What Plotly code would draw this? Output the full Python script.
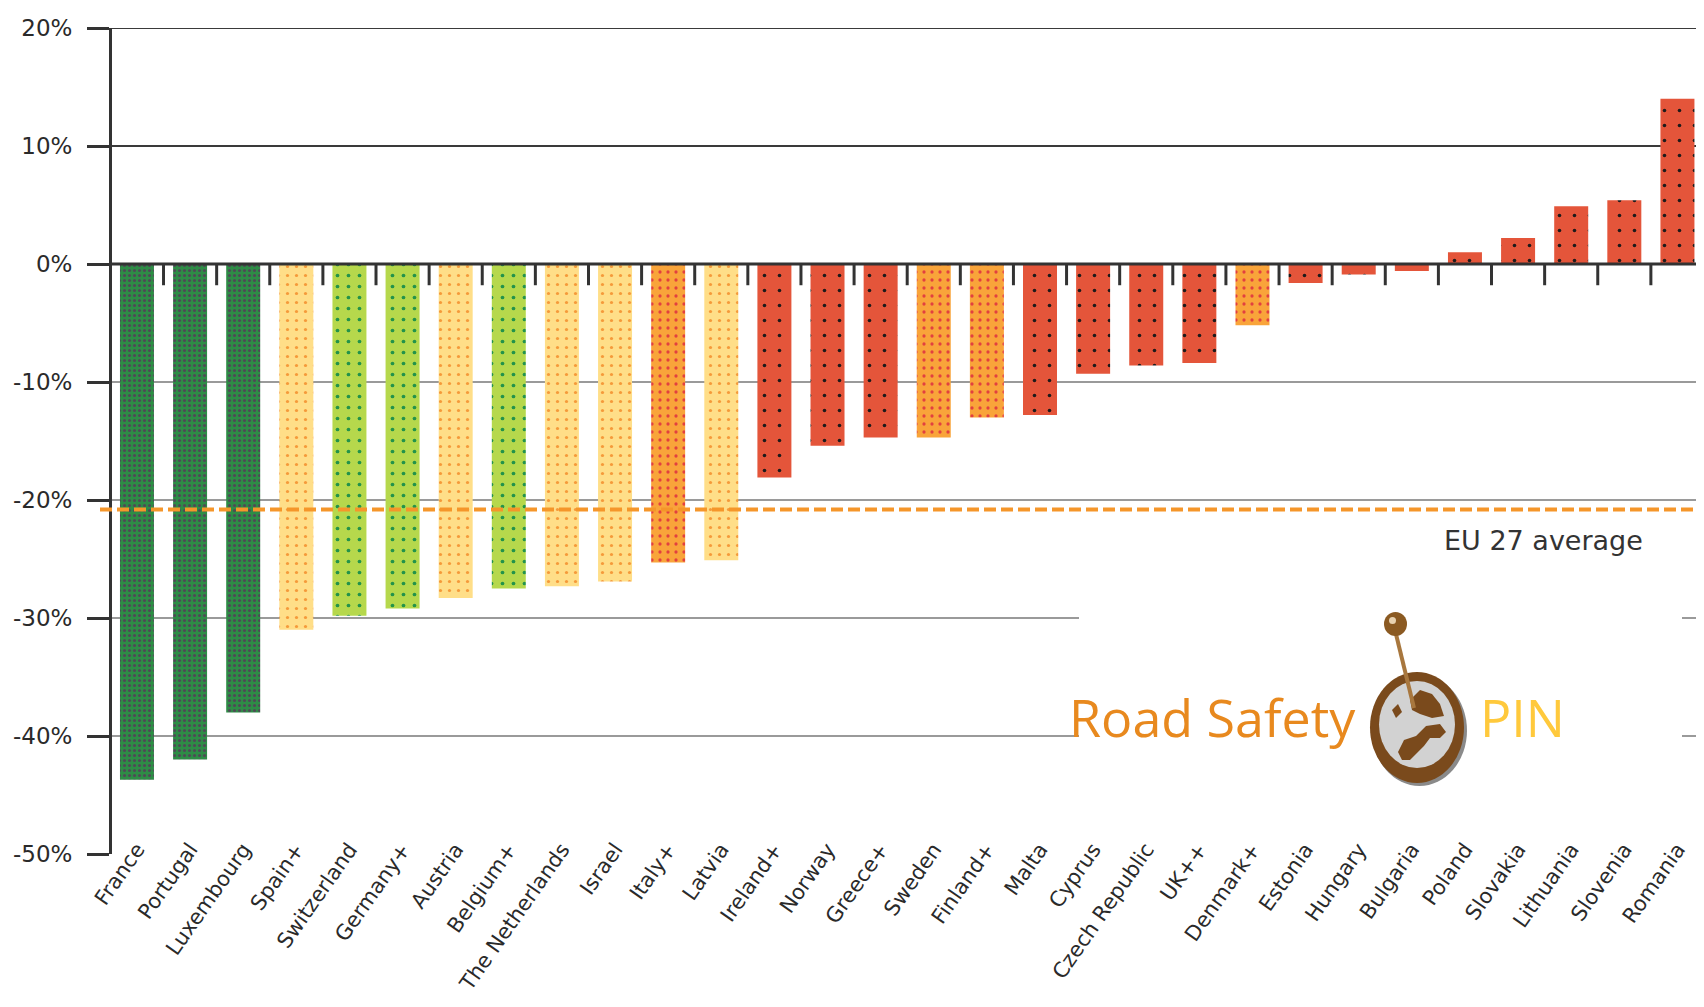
import plotly.graph_objects as go

countries = ["France", "Portugal", "Luxembourg", "Spain+", "Switzerland", "Germany+", "Austria",
             "Belgium+", "The Netherlands", "Israel", "Italy+", "Latvia", "Ireland+", "Norway",
             "Greece+", "Sweden", "Finland+", "Malta", "Cyprus", "Czech Republic", "UK++",
             "Denmark+", "Estonia", "Hungary", "Bulgaria", "Poland", "Slovakia", "Lithuania",
             "Slovenia", "Romania"]
change_pct = [-43.7, -42.0, -38.0, -31.0, -29.8, -29.2, -28.3, -27.5, -27.3, -26.9, -25.3, -25.1,
              -18.1, -15.4, -14.7, -14.7, -13.0, -12.8, -9.3, -8.6, -8.4, -5.2, -1.6, -0.9, -0.6,
              1.0, 2.2, 4.9, 5.4, 14.0]
group = ["dkgreen", "dkgreen", "dkgreen", "yellow", "lime", "lime", "yellow", "lime", "yellow",
         "yellow", "orange", "yellow", "red", "red", "red", "orange", "orange", "red", "red", "red",
         "red", "orange", "red", "red", "red", "red", "red", "red", "red", "red"]
eu27_average = -20.8
y_ticks = [-50, -40, -30, -20, -10, 0, 10, 20]
y_tick_labels = ["-50%", "-40%", "-30%", "-20%", "-10%", "0%", "10%", "20%"]

style = {
    "dkgreen": dict(color="#2E8C46", dot="#4E4A55", size=5, solidity=0.3),
    "yellow": dict(color="#FFDE88", dot="#F59A3A", size=9, solidity=0.1),
    "lime": dict(color="#B6D84C", dot="#23934A", size=11, solidity=0.09),
    "orange": dict(color="#F9A43A", dot="#E2403F", size=8, solidity=0.13),
    "red": dict(color="#E4553A", dot="#1E1A1A", size=15, solidity=0.045),
}

FONT = "DejaVu Sans"
LOGO_FONT = "Open Sans"
OFF = 8  # page body margin
W, H = 1704 - OFF, 1007 - 2 * OFF
SL, SR, ST, SB = 112, 1704, 28, 854   # plot area in screen pixels
L, R, T, B = SL - OFF, SR - OFF, ST - OFF, SB - OFF


def px(x):
    return (x - SL) / (SR - SL)


def py(y):
    return (SB - y) / (SB - ST)


fig = go.Figure()
for g in ["dkgreen", "yellow", "lime", "orange", "red"]:
    xs = [c for c, gg in zip(countries, group) if gg == g]
    ys = [v for v, gg in zip(change_pct, group) if gg == g]
    s = style[g]
    fig.add_trace(go.Bar(
        x=xs, y=ys, width=0.64, name=g,
        marker=dict(
            color=s["color"], line=dict(width=0),
            pattern=dict(shape=".", fillmode="overlay", fgcolor=s["dot"], fgopacity=1,
                         size=s["size"], solidity=s["solidity"]),
        ),
        hovertemplate="%{x}: %{y}%<extra></extra>",
    ))

shapes = []
for v in y_ticks:
    if v == -50 or v == 0:
        continue
    col = "#3a3a3a" if v > 0 else "#9a9a9a"
    shapes.append(dict(type="line", xref="paper", yref="y", x0=0, x1=1, y0=v, y1=v,
                       line=dict(color=col, width=2), layer="below"))
shapes.append(dict(type="rect", xref="paper", yref="paper", x0=px(1079), x1=px(1682),
                   y0=py(800), y1=py(560), fillcolor="white", line=dict(width=0), layer="below"))
shapes.append(dict(type="line", xref="paper", yref="y", x0=0, x1=1, y0=0, y1=0,
                   line=dict(color="#333333", width=3), layer="above"))
for i in range(len(countries) - 1):
    shapes.append(dict(type="line", xref="x", yref="y", x0=i + 0.5, x1=i + 0.5, y0=0, y1=-1.8,
                       line=dict(color="#333333", width=3), layer="above"))
shapes.append(dict(type="line", xref="paper", yref="y", x0=px(100), x1=1, y0=eu27_average,
                   y1=eu27_average, line=dict(color="#F5962A", width=4, dash="12px,5px"),
                   layer="above"))

# logo: globe pin
shapes.append(dict(type="circle", xref="paper", yref="paper", x0=px(1372), x1=px(1467),
                   y0=py(786), y1=py(675), fillcolor="#8a8a8a", line=dict(width=0)))
shapes.append(dict(type="circle", xref="paper", yref="paper", x0=px(1370), x1=px(1464),
                   y0=py(783), y1=py(672), fillcolor="#7A4A1C", line=dict(width=0)))
shapes.append(dict(type="circle", xref="paper", yref="paper", x0=px(1379), x1=px(1455),
                   y0=py(768), y1=py(681), fillcolor="#D2D2D2", line=dict(width=0)))
cont1 = [(1398, 752), (1404, 740), (1416, 736), (1426, 726), (1440, 724), (1446, 732),
         (1440, 738), (1430, 738), (1424, 746), (1418, 752), (1410, 760), (1402, 760)]
cont2 = [(1410, 700), (1420, 690), (1432, 694), (1440, 704), (1444, 716), (1432, 718),
         (1420, 714), (1412, 710)]
cont3 = [(1392, 710), (1398, 704), (1402, 712), (1396, 718)]
for poly in (cont1, cont2, cont3):
    path = "M " + " L ".join(f"{px(a):.5f},{py(b):.5f}" for a, b in poly) + " Z"
    shapes.append(dict(type="path", xref="paper", yref="paper", path=path,
                       fillcolor="#7A4A1C", line=dict(width=0)))
shapes.append(dict(type="line", xref="paper", yref="paper", x0=px(1395), y0=py(630),
                   x1=px(1414), y1=py(708), line=dict(color="#A8773E", width=4)))
shapes.append(dict(type="circle", xref="paper", yref="paper", x0=px(1384), x1=px(1407),
                   y0=py(636), y1=py(612), fillcolor="#8B5A22", line=dict(width=0)))
shapes.append(dict(type="circle", xref="paper", yref="paper", x0=px(1389), x1=px(1396),
                   y0=py(624), y1=py(617), fillcolor="#E8D2B0", line=dict(width=0)))

annotations = [
    dict(text="EU 27 average", xref="paper", yref="y", x=px(1645), y=-23.4, xanchor="right",
         yanchor="middle", showarrow=False, font=dict(family=FONT, size=27, color="#333333")),
    dict(text="Road Safety", xref="paper", yref="paper", x=px(1358), y=py(716), xanchor="right",
         yanchor="middle", showarrow=False, font=dict(family=LOGO_FONT, size=52, color="#E8891E")),
    dict(text="PIN", xref="paper", yref="paper", x=px(1478), y=py(716), xanchor="left",
         yanchor="middle", showarrow=False, font=dict(family=LOGO_FONT, size=52, color="#FFC93C")),
]

fig.update_layout(
    width=W, height=H,
    margin=dict(l=L, r=W - R, t=T, b=H - B, autoexpand=False),
    paper_bgcolor="white", plot_bgcolor="white",
    showlegend=False, barmode="overlay",
    font=dict(family=FONT, color="#333333"),
    shapes=shapes, annotations=annotations,
    xaxis=dict(type="category", categoryorder="array", categoryarray=countries,
               range=[-0.47, 29.5], showgrid=False, zeroline=False,
               showline=False, ticks="", tickangle=-55, automargin=False,
               anchor="free", position=py(832),
               tickfont=dict(family=FONT, size=21, color="#2a2a2a")),
    yaxis=dict(range=[-50, 20], tickvals=y_ticks, ticktext=y_tick_labels, showgrid=False,
               zeroline=False, showline=True, linecolor="#333333", linewidth=3,
               ticks="outside", ticklen=22, tickwidth=2.5, tickcolor="#333333",
               ticklabelstandoff=10, automargin=False,
               tickfont=dict(family=FONT, size=23, color="#2a2a2a")),
)

fig.write_html("out.html")
